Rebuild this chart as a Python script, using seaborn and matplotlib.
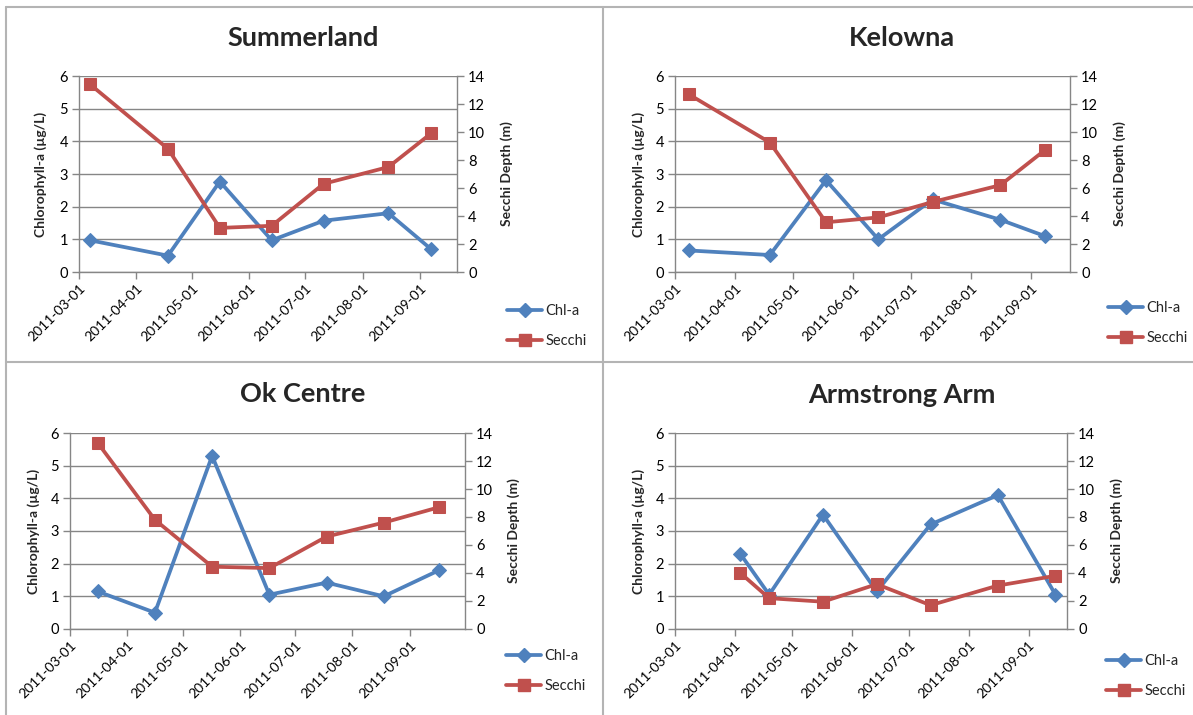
import matplotlib
matplotlib.use("Agg")
import matplotlib.pyplot as plt
import matplotlib.dates as mdates
from matplotlib.lines import Line2D
import seaborn as sns
import pandas as pd

# ---------------- data ----------------
sites = ["Summerland", "Kelowna", "Ok Centre", "Armstrong Arm"]

summ_dates = ['2011-03-07', '2011-04-18', '2011-05-16', '2011-06-13', '2011-07-11', '2011-08-15', '2011-09-07']
summ_chl = [0.97, 0.50, 2.77, 0.97, 1.57, 1.80, 0.70]
summ_secchi = [13.4, 8.8, 3.15, 3.3, 6.3, 7.5, 9.9]

kel_dates = ['2011-03-08', '2011-04-19', '2011-05-18', '2011-06-14', '2011-07-12', '2011-08-16', '2011-09-08']
kel_chl = [0.66, 0.52, 2.81, 1.00, 2.22, 1.60, 1.10]
kel_secchi = [12.7, 9.25, 3.55, 3.9, 5.0, 6.2, 8.7]

ok_dates = ['2011-03-16', '2011-04-16', '2011-05-17', '2011-06-17', '2011-07-18', '2011-08-18', '2011-09-17']
ok_chl = [1.15, 0.50, 5.30, 1.05, 1.42, 1.00, 1.80]
ok_secchi = [13.3, 7.8, 4.45, 4.35, 6.6, 7.6, 8.7]

arm_dates = ['2011-04-04', '2011-04-19', '2011-05-17', '2011-06-14', '2011-07-12', '2011-08-16', '2011-09-15']
arm_chl = [2.30, 1.05, 3.50, 1.15, 3.20, 4.10, 1.05]
arm_secchi = [4.0, 2.2, 1.95, 3.2, 1.7, 3.1, 3.8]

x_ticks = ['2011-03-01', '2011-04-01', '2011-05-01', '2011-06-01', '2011-07-01', '2011-08-01', '2011-09-01']
x_max = ['2011-09-21', '2011-09-21', '2011-10-01', '2011-09-21']

series_names = ["Chl-a", "Secchi"]
chl_label = "Chlorophyll-a (µg/L)"
secchi_label = "Secchi Depth (m)"

# ---------------- style ----------------
sns.set_style("white")
plt.rcParams['font.family'] = ['Lato', 'DejaVu Sans']
plt.rcParams['font.size'] = 10

BLUE = "#4F81BD"
RED = "#C0504D"
GRID = "#868686"

W, H = 1193, 715
fig = plt.figure(figsize=(W / 100, H / 100), dpi=100)

def fx(px):
    return px / W

def fy(py):
    return 1 - py / H

# panel geometry in pixels: left, right, top, bottom
panels = [
    dict(l=79, r=457, t=76, b=272, title=(303, 38), ylab=41, y2lab=507, leg=(507, 326)),
    dict(l=675, r=1070, t=76, b=272, title=(902, 38), ylab=639, y2lab=1120, leg=(1108, 323)),
    dict(l=70, r=465, t=433, b=629, title=(303, 394), ylab=34, y2lab=514, leg=(506, 671)),
    dict(l=675, r=1067, t=433, b=629, title=(902, 395), ylab=639, y2lab=1117, leg=(1106, 676)),
]

all_data = [
    (summ_dates, summ_chl, summ_secchi),
    (kel_dates, kel_chl, kel_secchi),
    (ok_dates, ok_chl, ok_secchi),
    (arm_dates, arm_chl, arm_secchi),
]

for i, (site, (dts, chl, sec), p) in enumerate(zip(sites, all_data, panels)):
    df = pd.DataFrame({"date": pd.to_datetime(dts), "chl": chl, "secchi": sec})
    ax = fig.add_axes([fx(p['l']), fy(p['b']), fx(p['r'] - p['l']), (p['b'] - p['t']) / H])
    ax2 = ax.twinx()

    sns.lineplot(data=df, x="date", y="chl", ax=ax, color=BLUE, lw=2.7,
                 marker="D", markersize=7.5, markeredgecolor=BLUE, zorder=3)
    sns.lineplot(data=df, x="date", y="secchi", ax=ax2, color=RED, lw=2.7,
                 marker="s", markersize=8, markeredgecolor=RED, zorder=3)

    ax.set_ylim(0, 6)
    ax.set_yticks(range(0, 7))
    ax2.set_ylim(0, 14)
    ax2.set_yticks(range(0, 15, 2))
    ax.set_xlim(pd.Timestamp('2011-03-01'), pd.Timestamp(x_max[i]))
    ax.set_xticks(pd.to_datetime(x_ticks))
    ax.xaxis.set_major_formatter(mdates.DateFormatter('%Y-%m-%d'))

    ax.grid(axis='y', color=GRID, lw=1)
    ax.grid(axis='x', visible=False)
    ax2.grid(False)
    for a in (ax, ax2):
        for s in a.spines.values():
            s.set_visible(False)
    ax.spines['left'].set_visible(True)
    ax.spines['bottom'].set_visible(True)
    ax2.spines['right'].set_visible(True)
    for s in (ax.spines['left'], ax.spines['bottom'], ax2.spines['right']):
        s.set_color(GRID)
        s.set_linewidth(1)

    ax.tick_params(axis='y', which='major', direction='out', length=5, width=1, color=GRID,
                   left=True, labelsize=10.5, pad=3, labelcolor='black')
    ax.tick_params(axis='x', which='major', direction='out', length=5, width=1, color=GRID,
                   bottom=True, labelsize=10, pad=2, labelcolor='black')
    ax2.tick_params(axis='y', which='major', direction='out', length=5, width=1, color=GRID,
                    right=True, labelsize=10.5, pad=3, labelcolor='black')
    for lab in ax.get_xticklabels():
        lab.set_rotation(45)
        lab.set_ha('right')
        lab.set_rotation_mode('anchor')

    ax.set_xlabel("")
    ax.set_ylabel("")
    ax2.set_ylabel("")

    fig.text(fx(p['title'][0]), fy(p['title'][1]), site, ha='center', va='center',
             fontsize=19.5, fontweight='bold')
    cy = (p['t'] + p['b']) / 2
    fig.text(fx(p['ylab']), fy(cy), chl_label, rotation=90, ha='center', va='center',
             fontsize=10, fontweight='bold')
    fig.text(fx(p['y2lab']), fy(cy), secchi_label, rotation=90, ha='center', va='center',
             fontsize=10, fontweight='bold')

    handles = [
        Line2D([], [], color=BLUE, lw=2.7, marker="D", markersize=7.5, markeredgecolor=BLUE),
        Line2D([], [], color=RED, lw=2.7, marker="s", markersize=8, markeredgecolor=RED),
    ]
    fig.legend(handles, series_names, loc='center left',
               bbox_to_anchor=(fx(p['leg'][0]), fy(p['leg'][1])),
               frameon=False, fontsize=10.5, handlelength=2.4, handletextpad=0.25,
               labelspacing=1.05, borderpad=0, borderaxespad=0)

# panel separators
BORDER = "#b4b4b4"
fig.add_artist(Line2D([fx(6.5), fx(W)], [fy(6.5), fy(6.5)], color=BORDER, lw=1.5))
fig.add_artist(Line2D([fx(6.5), fx(6.5)], [fy(6.5), fy(H)], color=BORDER, lw=1.5))
fig.add_artist(Line2D([fx(603), fx(603)], [fy(6.5), fy(H)], color=BORDER, lw=1.5))
fig.add_artist(Line2D([fx(6.5), fx(W)], [fy(362), fy(362)], color=BORDER, lw=1.5))

fig.savefig("out.png", dpi=100, facecolor='white')
